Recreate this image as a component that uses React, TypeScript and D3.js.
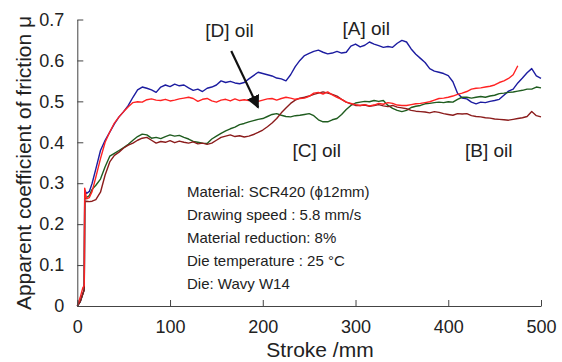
import React, { useEffect, useRef } from "react";
import * as d3 from "d3";

const stroke = [
  0, 3, 6, 7.5, 8, 10, 13, 16,
  20, 25, 30, 35, 40, 45, 50, 55, 60, 65,
  70, 75, 80, 85, 90, 95, 100, 105, 110, 115,
  120, 125, 130, 135, 140, 145, 150, 155, 160, 165,
  170, 175, 180, 185, 190, 195, 200, 205, 210, 215,
  220, 225, 230, 235, 240, 245, 250, 255, 260, 265,
  270, 275, 280, 285, 290, 295, 300, 305, 310, 315,
  320, 325, 330, 335, 340, 345, 350, 355, 360, 365,
  370, 375, 380, 385, 390, 395, 400, 405, 410, 415,
  420, 425, 430, 435, 440, 445, 450, 455, 460, 465,
  470, 475, 480, 485, 490, 495, 500,
];

const oilA = [
  0, 0.01, 0.03, 0.04, 0.283, 0.275, 0.28, 0.3,
  0.335, 0.38, 0.405, 0.425, 0.445, 0.462, 0.475, 0.49, 0.51, 0.528,
  0.535, 0.532, 0.528, 0.522, 0.535, 0.54, 0.536, 0.542, 0.538, 0.54,
  0.533, 0.527, 0.53, 0.524, 0.532, 0.535, 0.54, 0.55, 0.546, 0.549,
  0.545, 0.543, 0.546, 0.555, 0.563, 0.571, 0.568, 0.565, 0.562, 0.557,
  0.555, 0.55, 0.565, 0.585, 0.6, 0.612, 0.617, 0.622, 0.625, 0.62,
  0.616, 0.618, 0.622, 0.618, 0.62, 0.635, 0.64, 0.633, 0.637, 0.645,
  0.64, 0.636, 0.632, 0.634, 0.632, 0.642, 0.649, 0.645, 0.628, 0.615,
  0.605, 0.595, 0.58, 0.574, 0.571, 0.568, 0.563, 0.548, 0.52, 0.508,
  0.506, 0.498, 0.494, 0.498, 0.497, 0.5, 0.502, 0.505, 0.515, 0.525,
  0.53, 0.545, 0.557, 0.57, 0.58, 0.562, 0.556,
];

const oilB = [
  0, 0.01, 0.03, 0.04, 0.255, 0.256, 0.255, 0.256,
  0.26, 0.278, 0.32, 0.352, 0.368, 0.376, 0.386, 0.393, 0.398, 0.405,
  0.41, 0.412, 0.405, 0.398, 0.402, 0.4, 0.404, 0.399, 0.403, 0.4,
  0.398, 0.401, 0.396, 0.398, 0.395, 0.398, 0.405, 0.412, 0.415, 0.418,
  0.414, 0.416, 0.413, 0.415, 0.419, 0.424, 0.43, 0.438, 0.447, 0.458,
  0.472, 0.484, 0.495, 0.503, 0.508, 0.51, 0.513, 0.517, 0.52, 0.523,
  0.52, 0.517, 0.513, 0.505, 0.498, 0.494, 0.49, 0.49, 0.491, 0.488,
  0.49, 0.492, 0.489, 0.487, 0.49, 0.486, 0.484, 0.482, 0.478, 0.476,
  0.475, 0.474, 0.472, 0.475, 0.473, 0.47, 0.468, 0.466, 0.47, 0.469,
  0.47, 0.465, 0.463, 0.462, 0.46, 0.459, 0.457, 0.456, 0.455, 0.454,
  0.456, 0.458, 0.46, 0.463, 0.475, 0.465, 0.462,
];

const oilC = [
  0, 0.01, 0.03, 0.04, 0.262, 0.265, 0.27, 0.285,
  0.295, 0.31, 0.34, 0.366, 0.373, 0.38, 0.387, 0.395, 0.405, 0.414,
  0.42, 0.418, 0.41, 0.412, 0.409, 0.414, 0.418, 0.415, 0.417, 0.412,
  0.408, 0.402, 0.4, 0.398, 0.397, 0.408, 0.415, 0.422, 0.428, 0.433,
  0.437, 0.443, 0.446, 0.45, 0.453, 0.456, 0.458, 0.463, 0.468, 0.47,
  0.466, 0.463, 0.462, 0.465, 0.466, 0.468, 0.47, 0.465, 0.455, 0.45,
  0.45, 0.455, 0.458, 0.468, 0.48, 0.49, 0.496, 0.498, 0.5, 0.499,
  0.502, 0.5, 0.502, 0.49, 0.483, 0.478, 0.475, 0.478, 0.485, 0.488,
  0.49, 0.494, 0.495, 0.497, 0.498, 0.497, 0.499, 0.498, 0.505, 0.51,
  0.51, 0.508, 0.51, 0.512, 0.51, 0.513, 0.515, 0.519, 0.52, 0.522,
  0.523, 0.525, 0.527, 0.53, 0.53, 0.535, 0.533,
];

const oilD = [
  0, 0.02, 0.045, 0.05, 0.288, 0.262, 0.265, 0.28,
  0.315, 0.36, 0.4, 0.425, 0.447, 0.462, 0.475, 0.487, 0.497, 0.499,
  0.498, 0.504, 0.506, 0.503, 0.502, 0.505, 0.501, 0.503, 0.506, 0.508,
  0.51, 0.507, 0.5, 0.505, 0.507, 0.501, 0.498, 0.503, 0.505, 0.501,
  0.506, 0.502, 0.504, 0.502, 0.505, 0.5, 0.503, 0.506, 0.507, 0.503,
  0.507, 0.51, 0.508, 0.505, 0.507, 0.508, 0.512, 0.52, 0.522, 0.518,
  0.523, 0.516, 0.51, 0.505, 0.498, 0.495, 0.492, 0.49, 0.492, 0.489,
  0.491, 0.495, 0.493, 0.497, 0.495, 0.491, 0.49, 0.49, 0.492, 0.494,
  0.495, 0.497, 0.499, 0.503, 0.507, 0.508, 0.51, 0.513, 0.517, 0.52,
  0.524, 0.53, 0.532, 0.533, 0.535, 0.537, 0.54, 0.546, 0.55, 0.556,
  0.565, 0.587, null, null, null, null, null,
];

const seriesNames = ["[A] oil", "[C] oil", "[B] oil", "[D] oil"];
const seriesValues = [oilA, oilC, oilB, oilD];
const seriesColors = ["#1c1ca0", "#1f5c1f", "#8b1c1c", "#ff2222"];

const xTicks = [0, 100, 200, 300, 400, 500];
const yTicks = [0, 0.1, 0.2, 0.3, 0.4, 0.5, 0.6, 0.7];

// labels anchored in data units (stroke mm, mu)
const labels = [
  { text: "[A] oil", s: 286, mu: 0.662 },
  { text: "[D] oil", s: 138, mu: 0.658 },
  { text: "[C] oil", s: 232, mu: 0.363 },
  { text: "[B] oil", s: 418, mu: 0.363 },
];
const arrowFrom = { s: 166, mu: 0.623 };
const arrowTo = { s: 195, mu: 0.485 };

const conditions = [
  "Material: SCR420 (\u03d512mm)",
  "Drawing speed : 5.8 mm/s",
  "Material reduction: 8%",
  "Die temperature : 25 \u00b0C",
  "Die: Wavy W14",
];

const W = 562;
const H = 362;
const FONT = "Arial, 'Liberation Sans', Helvetica, sans-serif";

export default function App() {
  const svgRef = useRef<SVGSVGElement | null>(null);

  useEffect(() => {
    const svg = d3.select(svgRef.current).attr("width", W).attr("height", H);
    svg.selectAll("*").remove();

    const x = d3.scaleLinear().domain([0, 500]).range([77.3, 541]);
    const y = d3.scaleLinear().domain([0, 0.7]).range([306, 19.5]);
    const axisColor = "#444";

    // curves
    seriesValues.forEach((vals, i) => {
      const pts = stroke.map((s, j) => [s, vals[j]] as [number, number | null]);
      const line = d3
        .line<[number, number | null]>()
        .defined((d) => d[1] !== null)
        .x((d) => x(d[0]))
        .y((d) => y(d[1] as number));
      svg
        .append("path")
        .datum(pts)
        .attr("d", line)
        .attr("fill", "none")
        .attr("stroke", seriesColors[i])
        .attr("stroke-width", 1.4)
        .attr("stroke-linejoin", "round")
        .attr("data-name", seriesNames[i]);
    });

    // axes, inward ticks, no box
    const xAxis = svg
      .append("g")
      .attr("transform", `translate(0,${y(0)})`)
      .call(d3.axisBottom(x).tickValues(xTicks).tickSizeInner(-6).tickSizeOuter(0).tickPadding(14).tickFormat(d3.format("d")));
    const yAxis = svg
      .append("g")
      .attr("transform", `translate(${x(0)},0)`)
      .call(
        d3
          .axisLeft(y)
          .tickValues(yTicks)
          .tickSizeInner(-6)
          .tickSizeOuter(0)
          .tickPadding(13)
          .tickFormat((d) => (+d === 0 ? "0" : d3.format(".1f")(+d)))
      );
    [xAxis, yAxis].forEach((g) => {
      g.select(".domain").attr("stroke", axisColor);
      g.selectAll(".tick line").attr("stroke", axisColor);
      g.selectAll(".tick text")
        .attr("fill", "#222")
        .style("font-family", FONT)
        .style("font-size", "18px");
    });

    // axis titles
    svg
      .append("text")
      .attr("x", 320)
      .attr("y", 357)
      .attr("text-anchor", "middle")
      .style("font-family", FONT)
      .style("font-size", "21px")
      .attr("fill", "#222")
      .text("Stroke /mm");
    svg
      .append("text")
      .attr("transform", "rotate(-90)")
      .attr("x", -163)
      .attr("y", 31)
      .attr("text-anchor", "middle")
      .style("font-family", FONT)
      .style("font-size", "21px")
      .attr("fill", "#222")
      .text("Apparent coefficient of friction \u03bc");

    // oil labels
    labels.forEach((l) => {
      svg
        .append("text")
        .attr("x", x(l.s))
        .attr("y", y(l.mu))
        .style("font-family", FONT)
        .style("font-size", "19px")
        .attr("fill", "#222")
        .text(l.text);
    });

    // arrow for [D]
    svg
      .append("defs")
      .append("marker")
      .attr("id", "arrowHead")
      .attr("viewBox", "0 0 10 10")
      .attr("refX", 9)
      .attr("refY", 5)
      .attr("markerWidth", 6)
      .attr("markerHeight", 6)
      .attr("markerUnits", "strokeWidth")
      .attr("orient", "auto")
      .append("path")
      .attr("d", "M0,0 L10,5 L0,10 Z")
      .attr("fill", "#111");
    svg
      .append("line")
      .attr("x1", x(arrowFrom.s))
      .attr("y1", y(arrowFrom.mu))
      .attr("x2", x(arrowTo.s))
      .attr("y2", y(arrowTo.mu))
      .attr("stroke", "#111")
      .attr("stroke-width", 2.2)
      .attr("marker-end", "url(#arrowHead)");

    // test conditions
    const info = svg
      .append("text")
      .style("font-family", FONT)
      .style("font-size", "15px")
      .attr("fill", "#222");
    conditions.forEach((c, i) => {
      info
        .append("tspan")
        .attr("x", 187)
        .attr("y", 197 + i * 23)
        .text(c);
    });
  }, []);

  return (
    <div style={{ position: "absolute", left: 0, top: 0, background: "white" }}>
      <svg ref={svgRef}></svg>
    </div>
  );
}
